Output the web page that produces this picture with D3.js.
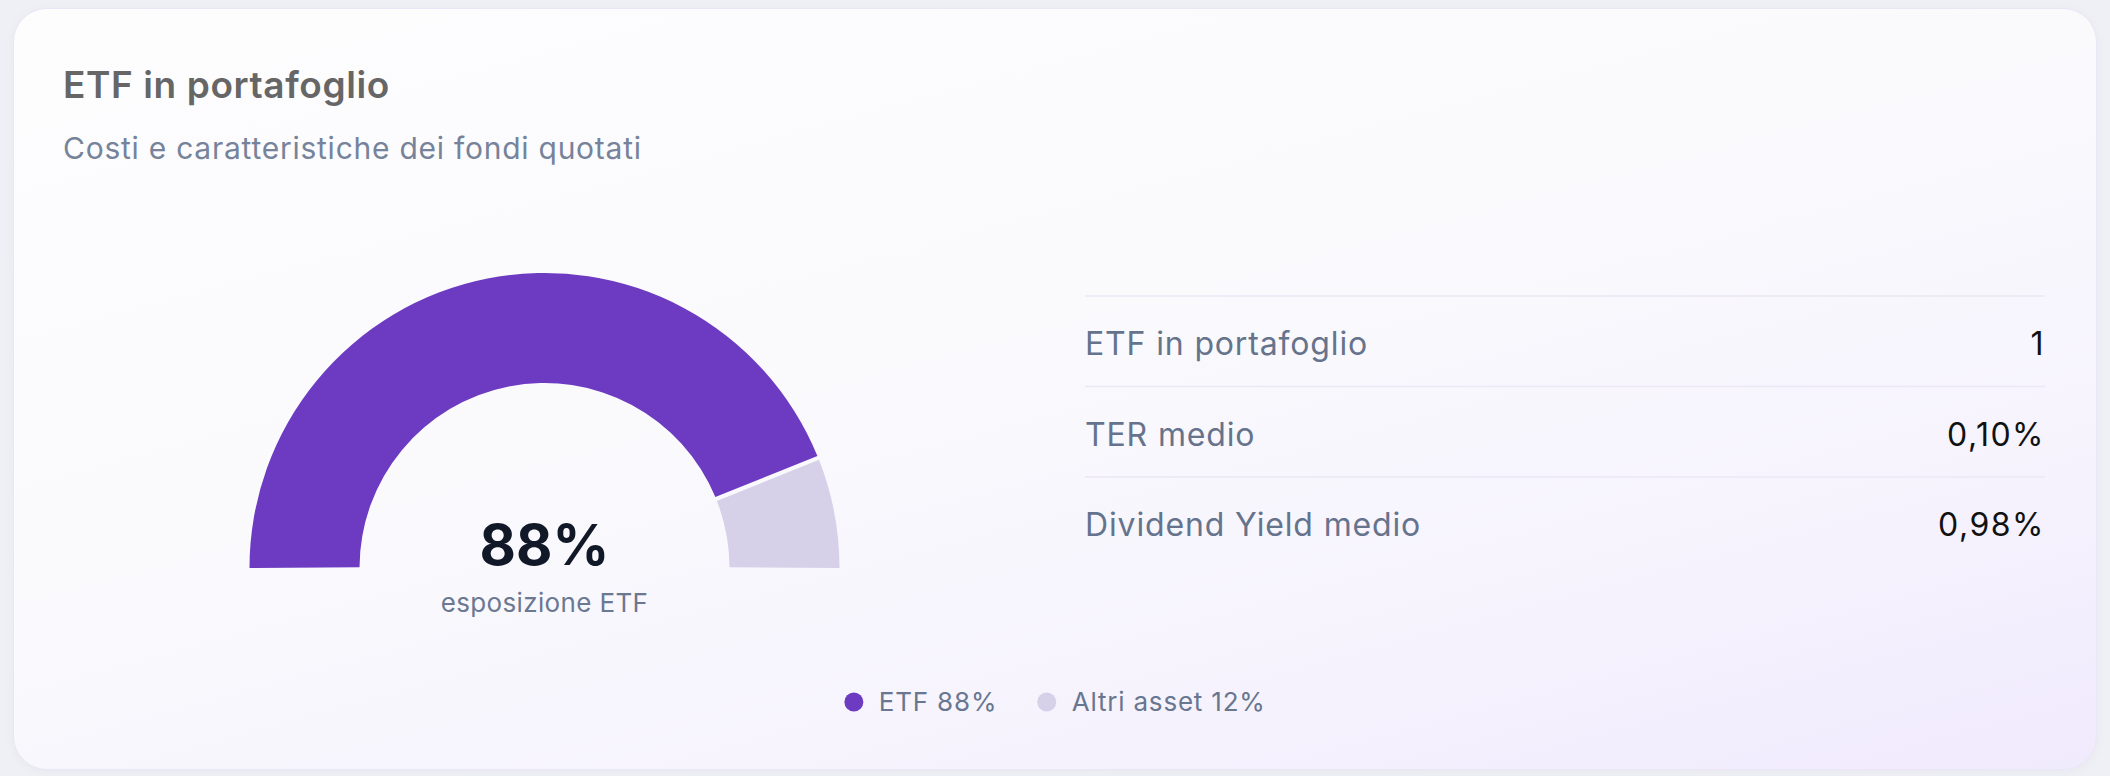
<!DOCTYPE html>
<html>
<head>
<meta charset="utf-8">
<script src="https://cdn.jsdelivr.net/npm/d3@7"></script>
<style>
  html, body { margin: 0; padding: 0; width: 2110px; height: 776px; overflow: hidden; background: #eff0f5; font-family: "Inter", "Noto Sans", sans-serif; }
  #card { position: absolute; left: 13px; top: 8px; width: 2082px; height: 760px; border-radius: 34px;
    background: linear-gradient(165deg, #fdfdfe 0%, #fafafd 45%, #f6f3fd 75%, #f0eafd 100%);
    border: 1px solid #ebe6f6; box-shadow: 0 2px 10px rgba(120,110,160,0.06); }
  svg { position: absolute; left: 0; top: 0; }
</style>
</head>
<body>
<div id="card"></div>
<svg id="chart" width="2110" height="776"></svg>
<script>
// ---- data ----
const title = "ETF in portafoglio";
const subtitle = "Costi e caratteristiche dei fondi quotati";
const categories = ["ETF", "Altri asset"];
const values = [88, 12];
const centerLabel = "esposizione ETF";
const statLabels = ["ETF in portafoglio", "TER medio", "Dividend Yield medio"];
const statValues = ["1", "0,10%", "0,98%"];

// ---- styles ----
const palette = ["#6d3bc1", "#d6d0e8"];
const svg = d3.select("#chart");
const font = "Inter, 'Noto Sans', sans-serif";

// header
svg.append("text").attr("x", 63).attr("y", 98)
  .attr("font-family", font).attr("font-size", 37).attr("font-weight", 600)
  .attr("letter-spacing", 0.6).attr("fill", "#666666").text(title);
svg.append("text").attr("x", 63).attr("y", 159)
  .attr("font-family", font).attr("font-size", 30).attr("font-weight", 400)
  .attr("letter-spacing", 0.75).attr("fill", "#76839a").text(subtitle);

// gauge
const cx = 544.5, cy = 568, outerR = 295, innerR = 185;
const pad = 0.014;
const pie = d3.pie().sort(null).value(d => d)
  .startAngle(-Math.PI / 2 - pad / 2).endAngle(Math.PI / 2 + pad / 2).padAngle(pad);
const arc = d3.arc().innerRadius(innerR).outerRadius(outerR).padRadius(outerR);
const g = svg.append("g").attr("transform", `translate(${cx},${cy})`);
g.selectAll("path").data(pie(values)).join("path")
  .attr("d", arc).attr("fill", (d, i) => palette[i]);

g.append("text").attr("x", 0).attr("y", -3).attr("text-anchor", "middle")
  .attr("font-family", font).attr("font-size", 56).attr("font-weight", 700)
  .attr("fill", "#111827").text(values[0] + "%");
g.append("text").attr("x", 0).attr("y", 44).attr("text-anchor", "middle")
  .attr("font-family", font).attr("font-size", 26).attr("font-weight", 400)
  .attr("letter-spacing", 0.35).attr("fill", "#6b7891").text(centerLabel);

// stats table
const tx0 = 1085, tx1 = 2045, rowTop = 296, rowH = 90.5;
const rowScale = d3.scaleLinear().domain([0, 1]).range([rowTop, rowTop + rowH]);
const rows = svg.append("g").selectAll("g").data(statLabels).join("g")
  .attr("transform", (d, i) => `translate(0,${rowScale(i)})`);
rows.append("line").attr("x1", tx0).attr("x2", tx1).attr("y1", 0).attr("y2", 0)
  .attr("stroke", "#ebe7f5").attr("stroke-width", 1.5);
rows.append("text").attr("x", tx0).attr("y", 59)
  .attr("font-family", font).attr("font-size", 32).attr("letter-spacing", 0.85)
  .attr("fill", "#66738c").text(d => d);
rows.append("text").attr("x", tx1).attr("y", 59).attr("text-anchor", "end")
  .attr("font-family", font).attr("font-size", 32).attr("letter-spacing", 1.5)
  .attr("fill", "#111111").text((d, i) => statValues[i]);

// legend (centered under the card)
const legend = svg.append("g");
const items = legend.selectAll("g").data(categories).join("g");
items.append("circle").attr("r", 9.5).attr("cx", 0).attr("cy", 0).attr("fill", (d, i) => palette[i]);
items.append("text").attr("x", 25).attr("y", 9)
  .attr("font-family", font).attr("font-size", 26).attr("letter-spacing", 0.8)
  .attr("fill", "#68768f").text((d, i) => `${d} ${values[i]}%`);
let off = 0;
const offsets = [];
items.each(function () {
  offsets.push(off);
  const w = this.getBBox().width;
  off += w + 40;
});
const totalW = off - 40;
const lx = 1055 - totalW / 2 + 9.5;
items.attr("transform", (d, i) => `translate(${lx + offsets[i]},702)`);
</script>
</body>
</html>
